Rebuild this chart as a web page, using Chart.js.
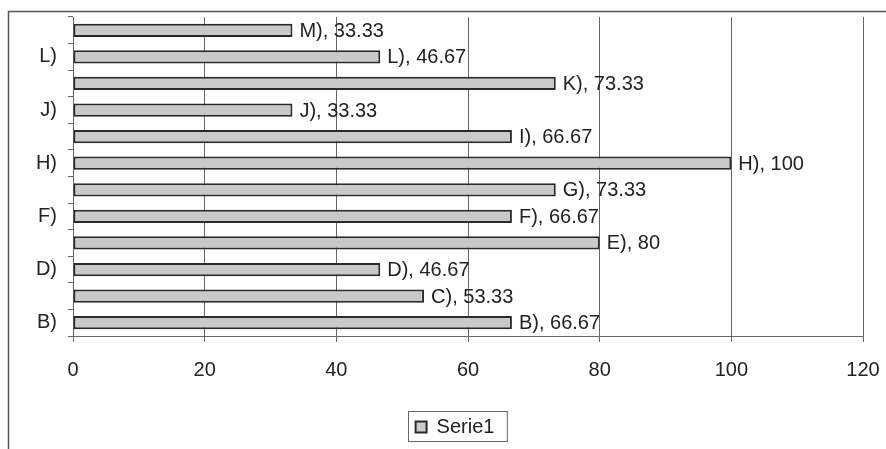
<!DOCTYPE html>
<html>
<head>
<meta charset="utf-8">
<script src="https://cdn.jsdelivr.net/npm/chart.js@4/dist/chart.umd.min.js"></script>
<style>
  html, body { margin: 0; padding: 0; background: #fff; }
  #wrap { width: 886px; height: 449px; position: relative; }
</style>
</head>
<body>
<div id="wrap"><canvas id="chart" width="886" height="449"></canvas></div>
<script>
// categories, bottom to top
const categories = ['B)', 'C)', 'D)', 'E)', 'F)', 'G)', 'H)', 'I)', 'J)', 'K)', 'L)', 'M)'];
const serie1 = [66.67, 53.33, 46.67, 80, 66.67, 73.33, 100, 66.67, 33.33, 73.33, 46.67, 33.33];
const xTicks = [0, 20, 40, 60, 80, 100, 120];
const seriesName = 'Serie1';

const FONT = '"Liberation Sans", Arial, sans-serif';
const LEGEND_CX = 455;

// outer frame + legend border
const framePlugin = {
  id: 'frame',
  afterLayout(chart) {
    // legend sits a bit right of centre in the original
    const lg = chart.legend;
    const d = LEGEND_CX - (lg.left + lg.right) / 2;
    lg.left += d;
    lg.right += d;
  },
  afterDraw(chart) {
    const ctx = chart.ctx;
    ctx.save();
    ctx.strokeStyle = '#555';
    ctx.lineWidth = 1.5;
    ctx.beginPath();
    ctx.moveTo(8.5, 449);
    ctx.lineTo(8.5, 11.5);
    ctx.lineTo(886, 11.5);
    ctx.stroke();
    // box round the legend
    const hb = chart.legend.legendHitBoxes[0];
    if (hb) {
      ctx.lineWidth = 1;
      ctx.strokeStyle = '#666';
      const cy = hb.top + hb.height / 2;
      ctx.strokeRect(Math.round(hb.left - 8) + 0.5, Math.round(cy - 16) + 0.5, hb.width + 20, 30);
    }
    ctx.restore();
  }
};

// "X), value" text at the end of each bar
const barLabels = {
  id: 'barLabels',
  afterDatasetsDraw(chart) {
    const ctx = chart.ctx;
    const meta = chart.getDatasetMeta(0);
    ctx.save();
    ctx.font = '20px ' + FONT;
    ctx.fillStyle = '#222';
    ctx.textBaseline = 'middle';
    ctx.textAlign = 'left';
    meta.data.forEach((bar, i) => {
      ctx.fillText(categories[i] + ', ' + serie1[i], bar.x + 7, bar.y + 1);
    });
    ctx.restore();
  }
};

new Chart(document.getElementById('chart'), {
  type: 'bar',
  plugins: [framePlugin, barLabels],
  data: {
    labels: categories,
    datasets: [{
      label: seriesName,
      data: serie1,
      backgroundColor: '#c9c9c9',
      borderColor: '#2a2a2a',
      borderWidth: 2,
      borderSkipped: false,
      barPercentage: 0.5,
      categoryPercentage: 1
    }]
  },
  options: {
    indexAxis: 'y',
    responsive: false,
    animation: false,
    layout: { padding: { top: 17, right: 23, bottom: 2, left: 0 } },
    plugins: {
      tooltip: { enabled: false },
      legend: {
        position: 'bottom',
        labels: {
          font: { family: FONT, size: 20 },
          color: '#222',
          boxWidth: 11,
          boxHeight: 11,
          padding: 10
        }
      }
    },
    scales: {
      x: {
        min: 0,
        max: 120,
        afterBuildTicks(scale) { scale.ticks = xTicks.map(v => ({ value: v })); },
        afterFit(scale) {
          scale.height = 71;
          scale.paddingLeft = 0;
          scale.paddingRight = 0;
        },
        grid: { color: '#666', lineWidth: 1, tickLength: 6 },
        border: { color: '#666' },
        ticks: { font: { family: FONT, size: 20 }, color: '#222', padding: 16 }
      },
      y: {
        reverse: true,
        afterFit(scale) {
          scale.width = 73;
          scale.paddingTop = 0;
          scale.paddingBottom = 0;
        },
        grid: { offset: true, drawOnChartArea: false, color: '#666', tickLength: 5 },
        border: { color: '#666' },
        ticks: {
          autoSkip: false,
          font: { family: FONT, size: 20 },
          color: '#222',
          padding: 11,
          callback: (v, i) => (i % 2 === 0 ? categories[i] : '')
        }
      }
    }
  }
});
</script>
</body>
</html>
